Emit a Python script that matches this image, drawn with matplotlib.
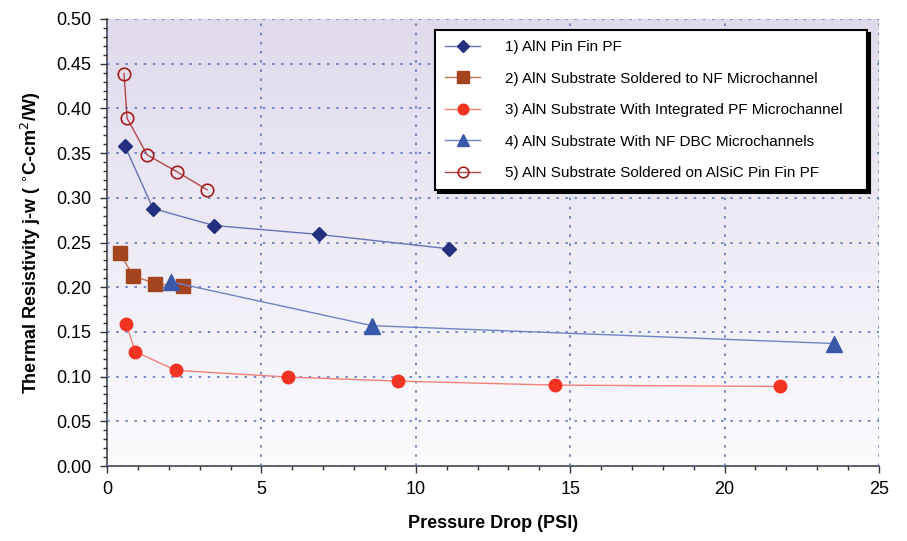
import numpy as np
import matplotlib
matplotlib.use("Agg")
import matplotlib.pyplot as plt
from matplotlib.ticker import MultipleLocator, FormatStrFormatter

plt.rcParams['font.family'] = ['Liberation Sans', 'DejaVu Sans']

# Data
labels = [
    "1) AlN Pin Fin PF",
    "2) AlN Substrate Soldered to NF Microchannel",
    "3) AlN Substrate With Integrated PF Microchannel",
    "4) AlN Substrate With NF DBC Microchannels",
    "5) AlN Substrate Soldered on AlSiC Pin Fin PF",
]
x1 = [0.58, 1.49, 3.46, 6.87, 11.07]
y1 = [0.358, 0.288, 0.269, 0.259, 0.243]
x2 = [0.42, 0.84, 1.55, 2.46]
y2 = [0.238, 0.213, 0.204, 0.201]
x3 = [0.62, 0.91, 2.23, 5.86, 9.42, 14.5, 21.8]
y3 = [0.159, 0.128, 0.107, 0.0995, 0.095, 0.0905, 0.089]
x4 = [2.07, 8.58, 23.54]
y4 = [0.206, 0.157, 0.137]
x5 = [0.55, 0.65, 1.30, 2.27, 3.24]
y5 = [0.439, 0.389, 0.348, 0.329, 0.309]

fig = plt.figure(figsize=(9.07, 5.41), dpi=100)
ax = fig.add_axes([0.118, 0.1386, 0.851, 0.8263])

# gradient background
grad = np.linspace(0, 1, 256).reshape(-1, 1)
top = np.array([0.878, 0.855, 0.925])
bot = np.array([0.985, 0.985, 0.995])
img = top[None, None, :] * (1 - grad[:, :, None]) + bot[None, None, :] * grad[:, :, None]
ax.imshow(img, extent=[0, 1, 0, 1], transform=ax.transAxes, aspect='auto', zorder=0)

ax.plot(x1, y1, '-', color='#6673B5', lw=1.0, marker='D', ms=7.5, mfc='#24307F', mec='#24307F', label=labels[0], zorder=3)
ax.plot(x2, y2, '-', color='#C47255', lw=1.0, marker='s', ms=9.5, mfc='#A4441F', mec='#A4441F', label=labels[1], zorder=3)
ax.plot(x3, y3, '-', color='#F28078', lw=1.0, marker='o', ms=9, mfc='#F23322', mec='#F23322', label=labels[2], zorder=3)
ax.plot(x4, y4, '-', color='#6E84C4', lw=1.0, marker='^', ms=11, mfc='#3A58AA', mec='#3A58AA', label=labels[3], zorder=3)
ax.plot(x5, y5, '-', color='#B04848', lw=1.0, marker='o', ms=9, mfc='none', mec='#A81C1C', mew=1.2, label=labels[4], zorder=3)

ax.set_xlim(0, 25)
ax.set_ylim(0, 0.5)
ax.xaxis.set_major_locator(MultipleLocator(5))
ax.xaxis.set_minor_locator(MultipleLocator(1))
ax.yaxis.set_major_locator(MultipleLocator(0.05))
ax.yaxis.set_minor_locator(MultipleLocator(0.01))
ax.yaxis.set_major_formatter(FormatStrFormatter('%.2f'))

ax.grid(True, which='major', color='#5E78C0', linestyle=(0, (1.5, 4)), lw=1.2, zorder=1)
ax.set_axisbelow(False)
for s in ['top', 'right']:
    ax.spines[s].set_visible(False)
for s in ['left', 'bottom']:
    ax.spines[s].set_color('#444444')
    ax.spines[s].set_linewidth(1.2)

ax.tick_params(which='major', direction='out', length=5, width=1, color='#333333', labelsize=13, pad=6)
ax.tick_params(which='minor', direction='out', length=3, width=1, color='#333333')

ax.set_xlabel('Pressure Drop (PSI)', fontsize=13, fontweight='bold', labelpad=12)
ax.set_ylabel(r'Thermal Resistivity j-w ( $^{\circ}$C-cm$^{2}$/W)', fontsize=13, fontweight='bold', labelpad=10)

leg = ax.legend(loc='upper left', bbox_to_anchor=(0.425, 0.5, 0.5596, 0.475), mode='expand',
                fontsize=11,
                frameon=True, fancybox=False, edgecolor='black', framealpha=1,
                labelspacing=1.15, handlelength=2.3, handletextpad=1.6,
                borderpad=0.65, borderaxespad=0.0, markerscale=0.85,
                shadow={'color': 'black', 'alpha': 1.0})
leg.get_frame().set_linewidth(1.5)
leg.set_zorder(5)

fig.savefig('out.png', dpi=100)
